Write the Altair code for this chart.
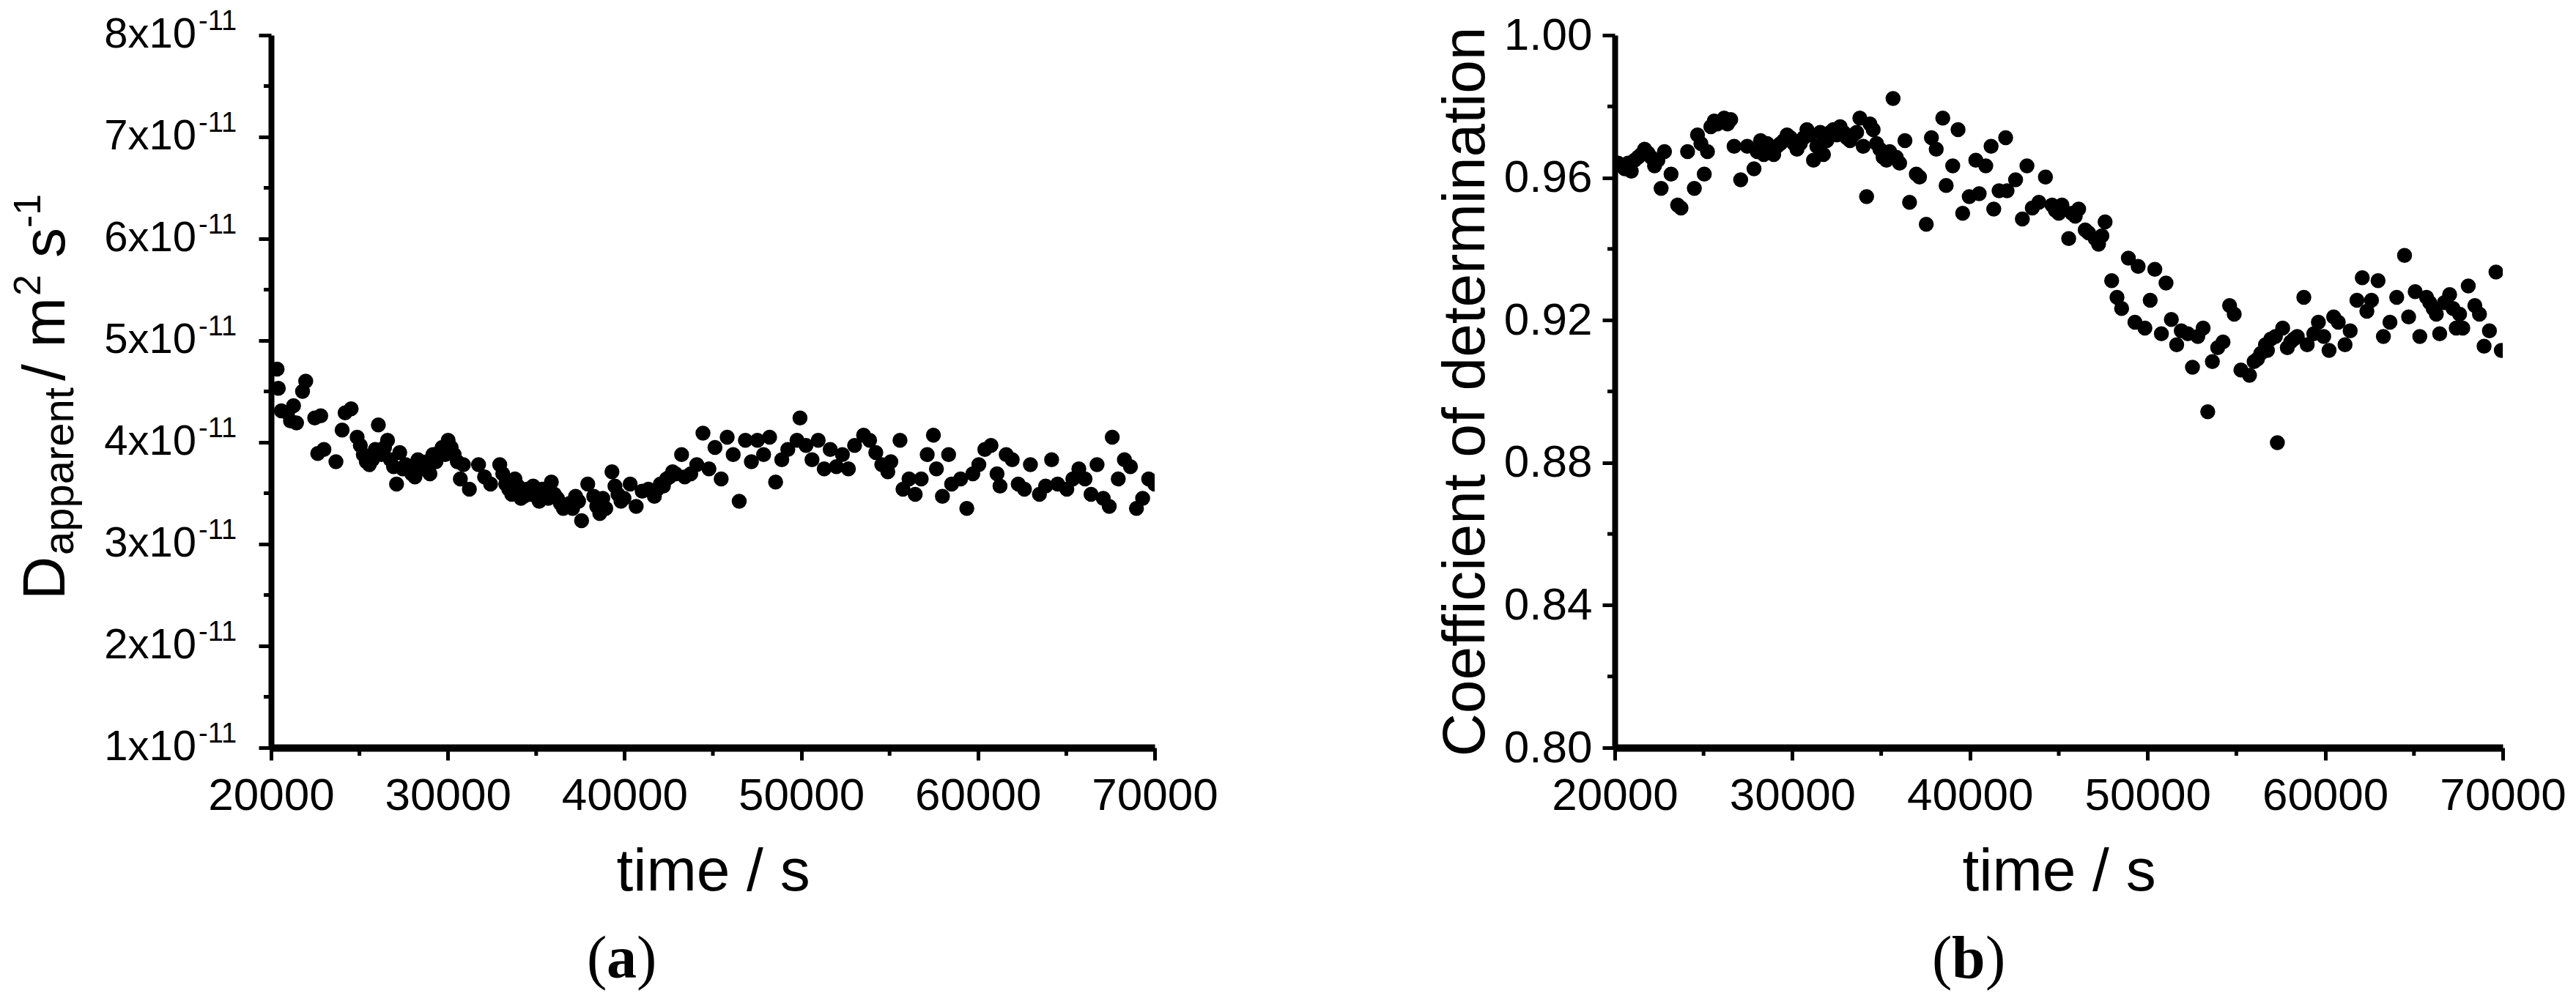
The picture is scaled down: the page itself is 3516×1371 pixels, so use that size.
import altair as alt
import pandas as pd

# ---------------- panel (a): apparent diffusion coefficient (units of 1e-11 m^2 s^-1)
time_a = [20340, 20410, 20580, 20930, 21100, 21270, 21440, 21780, 21960, 22470,
          22640, 22810, 22990, 23670, 24020, 24190, 24530, 24870, 25050, 25220,
          25390, 25560, 25730, 25900, 26070, 26250, 26420, 26590, 26760, 26930,
          27100, 27280, 27450, 27620, 27790, 27960, 28140, 28310, 28480, 28650,
          28820, 28990, 29160, 29330, 29510, 29680, 29850, 30020, 30190, 30360,
          30540, 30710, 30880, 31220, 31740, 32080, 32420, 32940, 33110, 33280,
          33450, 33620, 33800, 33970, 34140, 34310, 34480, 34650, 34830, 35000,
          35170, 35340, 35510, 35680, 35860, 36030, 36200, 36370, 36540, 36890,
          37060, 37230, 37400, 37570, 37920, 38260, 38430, 38600, 38770, 38940,
          39290, 39460, 39630, 39800, 39970, 40320, 40660, 41000, 41350, 41690,
          41860, 42030, 42200, 42380, 42550, 42720, 42890, 43230, 43410, 43750,
          44090, 44440, 44780, 45120, 45470, 45810, 46150, 46490, 46840, 47180,
          47520, 47870, 48210, 48550, 48900, 49240, 49760, 49930, 50270, 50610,
          50960, 51300, 51640, 51990, 52330, 52670, 53020, 53530, 53870, 54220,
          54560, 54900, 55070, 55590, 55760, 56100, 56450, 56790, 57130, 57480,
          57650, 57990, 58340, 58510, 59020, 59370, 59710, 60050, 60390, 60740,
          61080, 61250, 61600, 61940, 62280, 62630, 62970, 63480, 63830, 64170,
          64510, 65030, 65370, 65710, 66060, 66400, 66740, 67090, 67430, 67600,
          67940, 68290, 68630, 68970, 69320, 69660, 70000]
d_a = [4.72, 4.53, 4.31, 4.29, 4.21, 4.36, 4.19, 4.50, 4.60, 4.24,
       3.89, 4.26, 3.93, 3.81, 4.12, 4.29, 4.33, 4.05, 3.97, 3.88,
       3.81, 3.78, 3.83, 3.93, 4.17, 3.88, 3.95, 4.02, 3.83, 3.76,
       3.59, 3.90, 3.74, 3.78, 3.74, 3.69, 3.66, 3.83, 3.78, 3.74,
       3.81, 3.69, 3.88, 3.81, 3.90, 3.95, 3.88, 4.02, 3.95, 3.88,
       3.81, 3.64, 3.78, 3.54, 3.78, 3.66, 3.59, 3.78, 3.69, 3.59,
       3.54, 3.49, 3.64, 3.57, 3.45, 3.47, 3.54, 3.49, 3.57, 3.47,
       3.42, 3.54, 3.49, 3.45, 3.61, 3.49, 3.45, 3.40, 3.35, 3.40,
       3.35, 3.47, 3.42, 3.23, 3.59, 3.47, 3.37, 3.30, 3.45, 3.35,
       3.71, 3.57, 3.49, 3.42, 3.45, 3.59, 3.37, 3.52, 3.54, 3.47,
       3.54, 3.59, 3.57, 3.64, 3.66, 3.71, 3.69, 3.88, 3.66, 3.69,
       3.78, 4.09, 3.74, 3.95, 3.64, 4.05, 3.88, 3.42, 4.02, 3.81,
       4.02, 3.88, 4.05, 3.61, 3.83, 3.93, 4.02, 4.24, 3.97, 3.83,
       4.02, 3.74, 3.93, 3.76, 3.88, 3.74, 3.97, 4.07, 4.02, 3.90,
       3.78, 3.71, 3.81, 4.02, 3.54, 3.64, 3.49, 3.64, 3.88, 4.07,
       3.74, 3.47, 3.88, 3.59, 3.64, 3.35, 3.69, 3.78, 3.93, 3.97,
       3.69, 3.57, 3.88, 3.83, 3.59, 3.54, 3.78, 3.49, 3.57, 3.83,
       3.59, 3.54, 3.64, 3.74, 3.64, 3.49, 3.78, 3.45, 3.37, 4.05,
       3.64, 3.83, 3.76, 3.35, 3.45, 3.64, 3.59]

# ---------------- panel (b): coefficient of determination
time_b = [20190, 20370, 20560, 20750, 20930, 21120, 21310, 21490, 21680, 21870,
          22050, 22240, 22430, 22610, 22800, 23170, 23540, 23730, 24100, 24480,
          24660, 24850, 25040, 25220, 25410, 25600, 25780, 26160, 26350, 26530,
          26720, 27090, 27460, 27840, 28020, 28210, 28390, 28580, 28770, 28950,
          29140, 29330, 29510, 29700, 29890, 30080, 30260, 30450, 30640, 30820,
          31000, 31190, 31380, 31570, 31750, 31940, 32130, 32310, 32500, 32690,
          32880, 33060, 33250, 33430, 33620, 33800, 33990, 34180, 34370, 34550,
          34740, 34930, 35110, 35300, 35480, 35670, 35850, 36040, 36340, 36600,
          36980, 37160, 37540, 37830, 38100, 38470, 38660, 39030, 39330, 39590,
          39960, 40330, 40520, 40890, 41190, 41340, 41640, 42010, 42090, 42570,
          42950, 43210, 43510, 43880, 44250, 44620, 44810, 45000, 45180, 45560,
          45740, 45930, 46120, 46490, 46680, 47050, 47240, 47430, 47610, 47980,
          48280, 48540, 48920, 49290, 49470, 49850, 50150, 50410, 50780, 51040,
          51340, 51640, 51900, 52270, 52530, 52830, 53130, 53390, 53650, 53950,
          54250, 54620, 54880, 55260, 55740, 56000, 56190, 56380, 56640, 56750,
          56940, 57200, 57310, 57610, 57870, 58060, 58240, 58430, 58800, 58990,
          59360, 59620, 59920, 60220, 60480, 60740, 61120, 61410, 61790, 62090,
          62350, 62610, 62980, 63280, 63650, 64030, 64470, 64700, 65070, 65330,
          65710, 65890, 66080, 66260, 66450, 66710, 67010, 67200, 67380, 67570,
          67750, 68060, 68430, 68690, 68950, 69250, 69620, 69920]
r2_b = [0.9641, 0.9633, 0.9625, 0.9641, 0.9618, 0.9649, 0.9657, 0.9665, 0.9680, 0.9669,
        0.9657, 0.9633, 0.9649, 0.9570, 0.9673, 0.9610, 0.9523, 0.9515, 0.9673, 0.9570,
        0.9720, 0.9696, 0.9610, 0.9673, 0.9743, 0.9759, 0.9751, 0.9767, 0.9751, 0.9763,
        0.9688, 0.9594, 0.9688, 0.9625, 0.9673, 0.9704, 0.9665, 0.9696, 0.9673, 0.9665,
        0.9688, 0.9696, 0.9704, 0.9720, 0.9712, 0.9696, 0.9680, 0.9696, 0.9712, 0.9735,
        0.9720, 0.9649, 0.9688, 0.9727, 0.9665, 0.9704, 0.9727, 0.9735, 0.9720, 0.9743,
        0.9727, 0.9712, 0.9704, 0.9720, 0.9727, 0.9767, 0.9688, 0.9547, 0.9751, 0.9735,
        0.9696, 0.9680, 0.9657, 0.9649, 0.9673, 0.9822, 0.9657, 0.9641, 0.9704, 0.9531,
        0.9610, 0.9602, 0.9469, 0.9712, 0.9680, 0.9767, 0.9578, 0.9633, 0.9735, 0.9500,
        0.9547, 0.9649, 0.9555, 0.9633, 0.9688, 0.9512, 0.9563, 0.9712, 0.9563, 0.9594,
        0.9484, 0.9633, 0.9515, 0.9531, 0.9602, 0.9523, 0.9508, 0.9500, 0.9523, 0.9429,
        0.9500, 0.9492, 0.9512, 0.9453, 0.9445, 0.9429, 0.9413, 0.9437, 0.9476, 0.9311,
        0.9264, 0.9233, 0.9374, 0.9194, 0.9351, 0.9178, 0.9256, 0.9343, 0.9162, 0.9304,
        0.9202, 0.9131, 0.9170, 0.9162, 0.9068, 0.9154, 0.9178, 0.8943, 0.9084, 0.9123,
        0.9139, 0.9241, 0.9217, 0.9060, 0.9045, 0.9084, 0.9091, 0.9107, 0.9131, 0.9115,
        0.9147, 0.9154, 0.8856, 0.9178, 0.9123, 0.9139, 0.9147, 0.9154, 0.9264, 0.9131,
        0.9162, 0.9194, 0.9154, 0.9115, 0.9209, 0.9194, 0.9131, 0.9170, 0.9256, 0.9319,
        0.9225, 0.9256, 0.9311, 0.9154, 0.9194, 0.9264, 0.9382, 0.9209, 0.9280, 0.9154,
        0.9264, 0.9249, 0.9233, 0.9217, 0.9162, 0.9249, 0.9272, 0.9233, 0.9178, 0.9217,
        0.9178, 0.9296, 0.9241, 0.9217, 0.9127, 0.9170, 0.9335, 0.9115]

assert len(time_a) == len(d_a)
assert len(time_b) == len(r2_b)

# ---------------- ticks and labels
x_major = [20000, 30000, 40000, 50000, 60000, 70000]
x_minor = [25000, 35000, 45000, 55000, 65000]
ya_major = [1, 2, 3, 4, 5, 6, 7, 8]
ya_minor = [1.5, 2.5, 3.5, 4.5, 5.5, 6.5, 7.5]
ya_label_main = ["1x10", "2x10", "3x10", "4x10", "5x10", "6x10", "7x10", "8x10"]
ya_label_exp = ["-11"] * 8
yb_major = [0.80, 0.84, 0.88, 0.92, 0.96, 1.00]
yb_minor = [0.82, 0.86, 0.90, 0.94, 0.98]

W_A, W_B, H = 1206, 1212, 973
SANS = "Liberation Sans"
SERIF = "Liberation Serif"

xs = alt.Scale(domain=[20000, 70000], nice=False, zero=False)
ya_s = alt.Scale(domain=[1, 8], nice=False, zero=False)
yb_s = alt.Scale(domain=[0.80, 1.00], nice=False, zero=False)

AX_X = alt.Axis(values=x_major, format="d", labelFontSize=62, labelFont=SANS,
                labelColor="black", labelPadding=18, labelFlush=False,
                labelOverlap=False, tickSize=17, tickWidth=5, tickColor="black",
                domainWidth=10, domainColor="black", grid=False,
                title="time / s", titleFont=SANS, titleFontSize=82,
                titleFontWeight="normal", titleColor="black", titlePadding=33)
AX_YA = alt.Axis(values=ya_major, labels=False, title="", tickSize=17,
                 tickWidth=5, tickColor="black", domainWidth=8,
                 domainColor="black", grid=False)
AX_YB = alt.Axis(values=yb_major, format=".2f", labelFontSize=62,
                 labelFont=SANS, labelColor="black", labelPadding=14,
                 labelOverlap=False, labelFlush=False,
                 tickSize=17, tickWidth=5, tickColor="black",
                 domainWidth=8, domainColor="black", grid=False,
                 title="Coefficient of determination", titleFont=SANS,
                 titleFontSize=82, titleFontWeight="normal",
                 titleColor="black", titlePadding=10)


def minor_x():
    return alt.Chart(pd.DataFrame({"v": x_minor})).mark_rule(
        color="black", strokeWidth=5).encode(
        x=alt.X("v:Q", scale=xs, axis=AX_X),
        y=alt.value(H), y2=alt.value(H + 11))


def minor_y(vals, scale, axis):
    return alt.Chart(pd.DataFrame({"v": vals})).mark_rule(
        color="black", strokeWidth=5).encode(
        y=alt.Y("v:Q", scale=scale, axis=axis),
        x=alt.value(0), x2=alt.value(-10))


def rot_text(txt, xpos, ypos, size):
    return alt.Chart(pd.DataFrame({"t": [txt]})).mark_text(
        angle=270, align="left", baseline="alphabetic", font=SANS,
        fontSize=size, color="black").encode(
        x=alt.value(xpos), y=alt.value(ypos), text="t:N")


def flat_text(txt, xpos, ypos, size, weight):
    return alt.Chart(pd.DataFrame({"t": [txt]})).mark_text(
        align="left", baseline="alphabetic", font=SERIF, fontSize=size,
        fontWeight=weight, color="black").encode(
        x=alt.value(xpos), y=alt.value(ypos), text="t:N")


# ---------------- panel (a)
df_a = pd.DataFrame({"time": time_a, "D": d_a})
pts_a = alt.Chart(df_a).mark_circle(size=420, color="black", opacity=1, clip=True).encode(
    x=alt.X("time:Q", scale=xs, axis=AX_X),
    y=alt.Y("D:Q", scale=ya_s, axis=AX_YA),
)

lab_df = pd.DataFrame({"v": ya_major, "main": ya_label_main, "exp": ya_label_exp})
lab_main = alt.Chart(lab_df).mark_text(
    align="right", baseline="middle", font=SANS, fontSize=58, color="black").encode(
    y=alt.Y("v:Q", scale=ya_s, axis=AX_YA), x=alt.value(-102), text="main:N")
lab_exp = alt.Chart(lab_df).mark_text(
    align="left", baseline="alphabetic", font=SANS, fontSize=38, color="black", dy=-7).encode(
    y=alt.Y("v:Q", scale=ya_s, axis=AX_YA), x=alt.value(-99), text="exp:N")

title_a = [
    rot_text("D", -282, 771, 82),
    rot_text("apparent", -270, 710, 58),
    rot_text("/ m", -282, 472, 82),
    rot_text("2", -315, 356, 52),
    rot_text("s", -282, 304, 82),
    rot_text("-1", -315, 263, 52),
]
tag_a = [
    flat_text("(", 431, 1287, 82, "normal"),
    flat_text("a", 458, 1287, 82, "bold"),
    flat_text(")", 499, 1287, 82, "normal"),
]

left = alt.layer(pts_a, minor_x(), minor_y(ya_minor, ya_s, AX_YA), lab_main, lab_exp,
                 *title_a, *tag_a).properties(width=W_A, height=H)

# ---------------- panel (b)
df_b = pd.DataFrame({"time": time_b, "R2": r2_b})
pts_b = alt.Chart(df_b).mark_circle(size=420, color="black", opacity=1, clip=True).encode(
    x=alt.X("time:Q", scale=xs, axis=AX_X),
    y=alt.Y("R2:Q", scale=yb_s, axis=AX_YB),
)
tag_b = [
    flat_text("(", 433, 1287, 82, "normal"),
    flat_text("b", 460, 1287, 82, "bold"),
    flat_text(")", 506, 1287, 82, "normal"),
]
right = alt.layer(pts_b, minor_x(), minor_y(yb_minor, yb_s, AX_YB), *tag_b).properties(
    width=W_B, height=H)

chart = alt.hconcat(left, right, spacing=296).properties(
    padding={"left": 5, "top": 3, "right": 0, "bottom": 6},
    background="white").configure_view(strokeWidth=0)

chart.save("out.html", embed_options={"renderer": "svg", "actions": False})
